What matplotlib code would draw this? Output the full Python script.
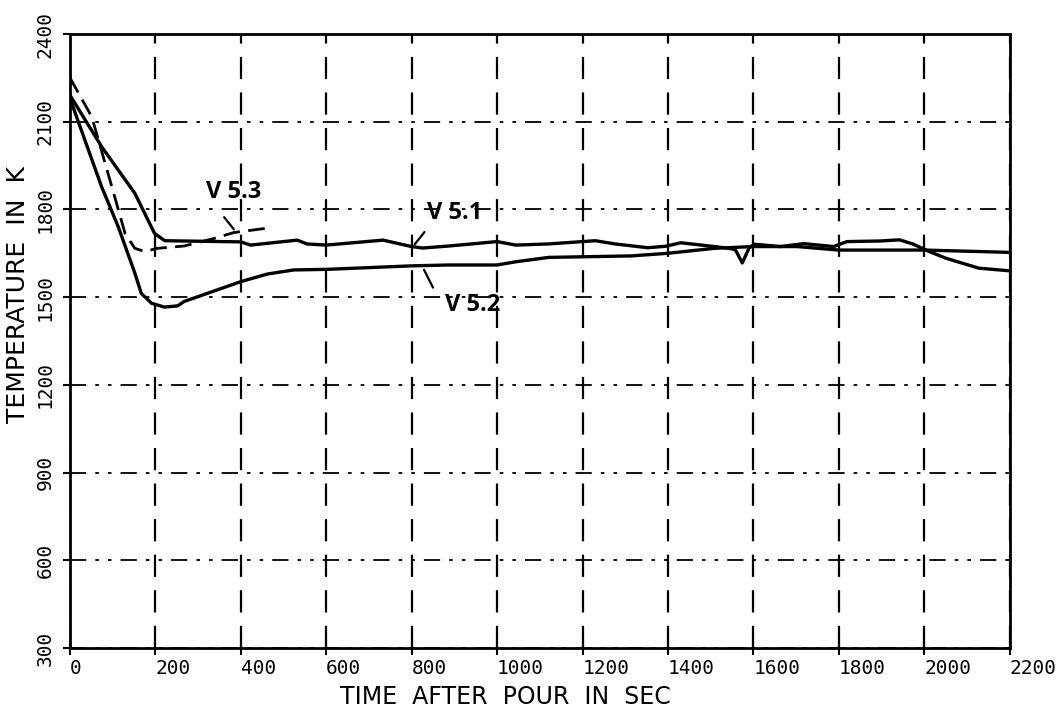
import matplotlib.pyplot as plt
import matplotlib.transforms as mtransforms

# curve data (time in s, temperature in K)
t_v51 = [0, 74, 152, 198, 222, 267, 400, 423, 532, 555, 600, 733, 800, 826, 888, 1000,
         1044, 1121, 1160, 1230, 1276, 1353, 1395, 1430, 1509, 1547, 1558, 1574, 1590,
         1602, 1663, 1718, 1788, 1819, 1896, 1942, 1973, 2012, 2051, 2128, 2200]
T_v51 = [2191, 2015, 1855, 1718, 1693, 1692, 1689, 1678, 1695, 1682, 1678, 1695, 1673, 1668, 1675, 1690,
         1678, 1682, 1686, 1693, 1682, 1669, 1674, 1686, 1673, 1666, 1662, 1617, 1668,
         1681, 1673, 1683, 1673, 1690, 1692, 1696, 1682, 1656, 1633, 1599, 1590]

t_v52 = [0, 74, 113, 152, 167, 191, 221, 252, 267, 400, 462, 524, 600, 800, 888, 1000,
         1044, 1121, 1314, 1400, 1509, 1600, 1702, 1800, 2000, 2128, 2200]
T_v52 = [2180, 1878, 1741, 1582, 1513, 1479, 1466, 1470, 1485, 1553, 1579, 1593, 1595, 1607, 1610, 1610,
         1621, 1636, 1641, 1650, 1667, 1673, 1673, 1661, 1661, 1656, 1653]

t_v53 = [0, 51, 98, 129, 152, 175, 205, 268, 338, 384, 462, 470]
T_v53 = [2250, 2117, 1878, 1718, 1667, 1656, 1667, 1675, 1701, 1721, 1736, 1736]

x_ticks = list(range(0, 2201, 200))
y_ticks = list(range(300, 2401, 300))

# label text, text position, arrow tip
labels = {
    'V 5.3': ((384, 1861), (357, 1781), (388, 1724)),
    'V 5.1': ((900, 1787), (834, 1730), (803, 1673)),
    'V 5.2': ((942, 1473), (853, 1524), (826, 1602)),
}

fig = plt.figure(figsize=(10.63, 7.16), dpi=100)
ax = fig.add_axes([0.0658, 0.095, 0.884, 0.8575])

ax.plot(t_v51, T_v51, color='black', lw=2.4)
ax.plot(t_v52, T_v52, color='black', lw=2.4)
ax.plot(t_v53, T_v53, color='black', lw=2.0, ls=(0, (6, 3)))

ax.set_xlim(0, 2200)
ax.set_ylim(300, 2400)
ax.set_xticks(x_ticks)
ax.set_yticks(y_ticks)
ax.set_xticklabels([str(v) for v in x_ticks], family='DejaVu Sans Mono', fontsize=14)
ax.set_yticklabels([str(v) for v in y_ticks], family='DejaVu Sans Mono', fontsize=14,
                   rotation=90, va='center')

# labels sit to the right of / above their ticks in the original
dx = mtransforms.ScaledTranslation(4 / 100, 0, fig.dpi_scale_trans)
for lab in ax.get_xticklabels():
    lab.set_ha('left')
    lab.set_transform(lab.get_transform() + dx)
dy = mtransforms.ScaledTranslation(0, 7 / 100, fig.dpi_scale_trans)
for lab in ax.get_yticklabels():
    lab.set_transform(lab.get_transform() + dy)

ax.tick_params(axis='x', direction='inout', length=10, width=1.5, pad=3)
ax.tick_params(axis='y', direction='out', length=5, width=1.5, pad=6)

ax.grid(axis='x', color='black', lw=1.6, ls=(0, (10, 6)))
ax.grid(axis='y', color='black', lw=1.3, ls=(0, (9, 5, 2, 5, 2, 5)))
for s in ax.spines.values():
    s.set_linewidth(2)

ax.set_xlabel('TIME  AFTER  POUR  IN  SEC', family='DejaVu Sans', fontsize=17)
ax.set_ylabel('TEMPERATURE  IN  K', family='DejaVu Sans', fontsize=18)
ax.xaxis.set_label_coords(0.463, -0.06)
ax.yaxis.set_label_coords(-0.043, 0.575)

for name, (txt, start, tip) in labels.items():
    ax.text(txt[0], txt[1], name, family='Open Sans', weight='bold', fontsize=17,
            ha='center', va='center')
    ax.annotate('', xy=tip, xytext=start,
                arrowprops=dict(arrowstyle='-', color='black', lw=1.6))

fig.savefig('out.png', dpi=100)
